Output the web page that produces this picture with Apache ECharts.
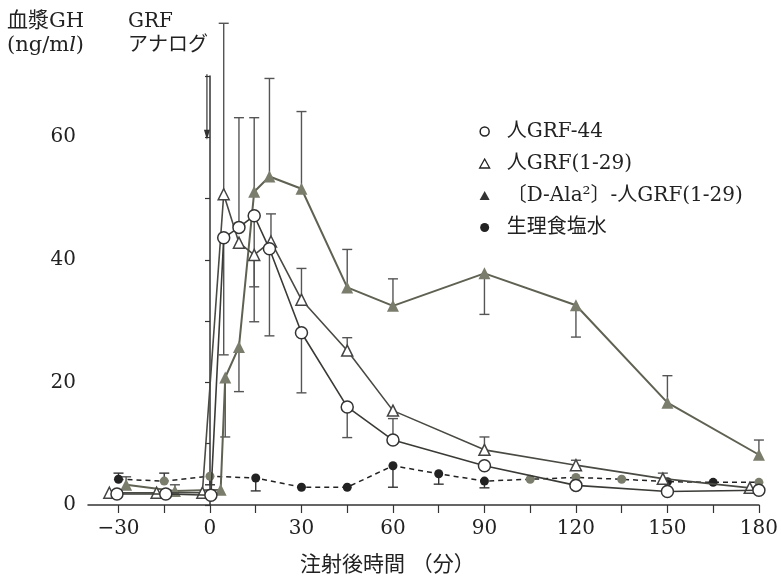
<!DOCTYPE html>
<html>
<head>
<meta charset="utf-8">
<script src="https://cdn.jsdelivr.net/npm/echarts@6/dist/echarts.min.js"></script>
<style>
  html, body { margin: 0; padding: 0; background: #fff; }
  #main { width: 781px; height: 582px; }
</style>
</head>
<body>
<div id="main"></div>
<script>
// series names (legend order)
const names = ["人GRF-44", "人GRF(1-29)", "〔D-Ala²〕-人GRF(1-29)", "生理食塩水"];

// [minutes, GH ng/ml]  (small x offsets are how the points sit in the figure)
const grf44 = [[-30.5, 1.8], [-14.5, 1.8], [0.3, 1.6], [4.5, 43.6], [9.5, 45.3], [14.5, 47.2], [19.5, 41.8], [30, 28.1], [45, 16.0], [60, 10.6], [90, 6.4], [120, 3.2], [150, 2.2], [180, 2.4]];
const grf129 = [[-33, 2.0], [-17.5, 2.0], [-2.5, 2.0], [4.5, 50.7], [9.5, 42.8], [14.5, 40.8], [20, 43.0], [30, 33.5], [45, 25.2], [60, 15.4], [90, 9.0], [120, 6.5], [148.5, 4.3], [177, 2.8]];
const dAla = [[-27.5, 3.3], [-11.5, 2.3], [3.5, 2.5], [5, 20.8], [9.5, 25.8], [14.5, 51.1], [19.5, 53.6], [30, 51.6], [45, 35.5], [60, 32.5], [90, 37.8], [120, 32.6], [150, 16.7], [180, 8.2]];
const saline = [[-30, 4.2], [-15, 3.9], [0, 4.7], [15, 4.4], [30, 2.9], [45, 2.9], [60, 6.4], [75, 5.1], [90, 3.9], [105, 4.2], [120, 4.5], [135, 4.2], [150, 3.8], [165, 3.7], [180, 3.7]];

// error bars: [minutes, mean, end of bar]
const grf44Err = [[4.5, 43.6, 24.5], [9.5, 45.3, 63.2], [14.5, 47.2, 35.6], [19.5, 41.8, 27.6], [30, 28.1, 18.3], [45, 16.0, 11.0], [60, 10.6, 14.1]];
const grf129Err = [[4.5, 50.7, 78.6], [14.5, 40.8, 29.9], [20, 43.0, 47.5], [30, 33.5, 38.6], [45, 25.2, 27.3], [90, 9.0, 11.1], [120, 6.5, 7.3], [148.5, 4.3, 5.2]];
const dAlaErr = [[-27.5, 3.3, 4.6], [-11.5, 2.3, 3.3], [5, 20.8, 11.1], [9.5, 25.8, 18.5], [14.5, 51.1, 63.2], [19.5, 53.6, 69.6], [30, 51.6, 64.2], [45, 35.5, 41.7], [60, 32.5, 36.9], [90, 37.8, 31.1], [120, 32.6, 27.4], [150, 16.7, 21.1], [180, 8.2, 10.6]];
const salineErr = [[-30, 4.2, 5.2], [-15, 3.9, 5.2], [0, 4.7, 3.3], [15, 4.4, 2.3], [60, 6.4, 2.9], [75, 5.1, 3.4], [90, 3.9, 2.8]];

// axis ticks / labels
const xTicks = [-30, -15, 0, 15, 30, 45, 60, 75, 90, 105, 120, 135, 150, 165, 180];
const xLabels = [-30, 0, 30, 60, 90, 120, 150, 180];
// GRF analog injection arrow: [minutes, from, to]
const injectArrow = [[-1, 70.3, 59.6]];

const serif = "'DejaVu Serif', 'Noto Sans CJK JP', serif";
const olive = "#7b7d6c";
const grayDots = [-15, 0, 105, 120, 135, 180];

const chart = echarts.init(document.getElementById("main"));

const errRender = (color) => (params, api) => {
  const x = api.value(0);
  const p0 = api.coord([x, api.value(1)]);
  const p1 = api.coord([x, api.value(2)]);
  const st = { stroke: color, lineWidth: 1.4 };
  return {
    type: "group",
    children: [
      { type: "line", shape: { x1: p0[0], y1: p0[1], x2: p1[0], y2: p1[1] }, style: st },
      { type: "line", shape: { x1: p1[0] - 5, y1: p1[1], x2: p1[0] + 5, y2: p1[1] }, style: st },
    ],
  };
};

const arrowRender = (params, api) => {
  const x = api.value(0);
  const p0 = api.coord([x, api.value(1)]);
  const p1 = api.coord([x, api.value(2)]);
  return {
    type: "group",
    children: [
      { type: "line", shape: { x1: p0[0], y1: p0[1], x2: p1[0], y2: p1[1] - 6 }, style: { stroke: "#333", lineWidth: 1.2 } },
      {
        type: "polygon",
        shape: { points: [[p1[0] - 3, p1[1] - 10], [p1[0] + 3, p1[1] - 10], [p1[0], p1[1]]] },
        style: { fill: "#333" },
      },
    ],
  };
};

const errSeries = (name, data, color) => ({
  name,
  type: "custom",
  renderItem: errRender(color),
  data,
  clip: false,
  z: 1,
  silent: true,
});

const option = {
  animation: false,
  backgroundColor: "#fff",
  grid: { left: 88, right: 16, top: 76, bottom: 77 },
  legend: {
    orient: "vertical",
    left: 474,
    top: 116,
    itemGap: 11,
    itemWidth: 10,
    itemHeight: 9,
    textStyle: { fontFamily: serif, fontSize: 20, color: "#222", lineHeight: 21, padding: [0, 0, 0, 12] },
    data: [
      { name: names[0], icon: "circle", itemStyle: { color: "#fff", borderColor: "#222", borderWidth: 1.5 } },
      { name: names[1], icon: "triangle", itemStyle: { color: "#fff", borderColor: "#222", borderWidth: 1.3 } },
      { name: names[2], icon: "triangle", itemStyle: { color: "#333", borderWidth: 0 } },
      { name: names[3], icon: "circle", itemStyle: { color: "#222", borderWidth: 0 } },
    ],
  },
  xAxis: {
    type: "value",
    min: -40,
    max: 180,
    splitLine: { show: false },
    axisLine: { onZero: false, lineStyle: { color: "#333", width: 1.5 } },
    axisTick: { customValues: xTicks, length: 8, lineStyle: { color: "#333", width: 1.2 } },
    axisLabel: {
      customValues: xLabels,
      margin: 14,
      fontFamily: serif,
      fontSize: 20,
      color: "#222",
      formatter: (v) => (v < 0 ? "−" + Math.abs(v) : String(v)),
    },
  },
  yAxis: {
    type: "value",
    min: 0,
    max: 70,
    interval: 10,
    splitLine: { show: false },
    axisLine: { show: true, lineStyle: { color: "#333", width: 1.5 } },
    axisTick: { length: 5, lineStyle: { color: "#333", width: 1.2 } },
    axisLabel: {
      margin: 12,
      fontFamily: serif,
      fontSize: 20,
      color: "#222",
      formatter: (v) => (v % 20 === 0 && v < 70 ? String(v) : ""),
    },
  },
  graphic: [
    {
      type: "text",
      left: 7,
      top: 10,
      style: {
        text: "血漿GH\n(ng/m{i|l})",
        fontFamily: serif,
        fontSize: 21,
        lineHeight: 24,
        fill: "#222",
        rich: { i: { fontStyle: "italic", fontFamily: serif, fontSize: 21, fill: "#222" } },
      },
    },
    {
      type: "text",
      left: 128,
      top: 10,
      style: { text: "GRF\nアナログ", fontFamily: serif, fontSize: 20, lineHeight: 24, fill: "#222" },
    },
    {
      type: "text",
      left: 300,
      top: 555,
      style: { text: "注射後時間 （分）", fontFamily: serif, fontSize: 21, fill: "#222" },
    },
  ],
  series: [
    errSeries("e0", grf44Err, "#555"),
    errSeries("e1", grf129Err, "#555"),
    errSeries("e2", dAlaErr, "#555"),
    errSeries("e3", salineErr, "#333"),
    {
      name: "arrow",
      type: "custom",
      renderItem: arrowRender,
      data: injectArrow,
      clip: false,
      silent: true,
    },
    {
      name: names[3],
      type: "line",
      data: saline,
      symbol: "circle",
      symbolSize: 9,
      z: 3,
      lineStyle: { color: "#222", width: 1.5, type: [5, 4] },
      itemStyle: {
        color: (p) => (grayDots.indexOf(p.data[0]) >= 0 ? olive : "#222"),
      },
    },
    {
      name: names[2],
      type: "line",
      data: dAla,
      symbol: "triangle",
      symbolSize: 12,
      z: 4,
      lineStyle: { color: "#5f6152", width: 2 },
      itemStyle: { color: olive },
    },
    {
      name: names[1],
      type: "line",
      data: grf129,
      symbol: "triangle",
      symbolSize: 11,
      z: 5,
      lineStyle: { color: "#4a4a44", width: 1.6 },
      itemStyle: { color: "#fff", borderColor: "#444", borderWidth: 1.5 },
    },
    {
      name: names[0],
      type: "line",
      data: grf44,
      symbol: "circle",
      symbolSize: 12,
      z: 6,
      lineStyle: { color: "#3a3a36", width: 1.6 },
      itemStyle: { color: "#fff", borderColor: "#333", borderWidth: 1.5 },
    },
  ],
};

chart.setOption(option);
</script>
</body>
</html>
